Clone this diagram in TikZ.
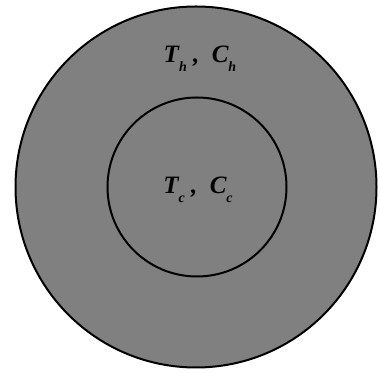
\documentclass[tikz,border=0pt]{standalone}
\usepackage{fontspec}
\setmainfont{Liberation Serif}
\usepackage{xcolor}
\definecolor{shade}{RGB}{128,128,128}
\newcommand{\lowidx}[1]{\raisebox{-0.35em}{\fontsize{14}{14}\selectfont #1}}
\begin{document}
\begin{tikzpicture}[x=1pt,y=1pt,
  ring/.style={circle,draw=black,line width=2pt,fill=shade,inner sep=0pt},
  lbl/.style={font=\fontsize{25}{25}\selectfont\bfseries\itshape,inner sep=0pt}]
  \useasboundingbox (0,0) rectangle (380,374);
  \node[ring,minimum size=361pt] (outer) at (196,187) {};
  \node[ring,minimum size=179pt] (inner) at (197,187) {};
  \node[lbl] (hot) at (200,315) {T\lowidx{h}\ ,\ \ C\lowidx{h}};
  \node[lbl] (core) at (198,184) {T\lowidx{c}\ ,\ \ C\lowidx{c}};
\end{tikzpicture}
\end{document}
